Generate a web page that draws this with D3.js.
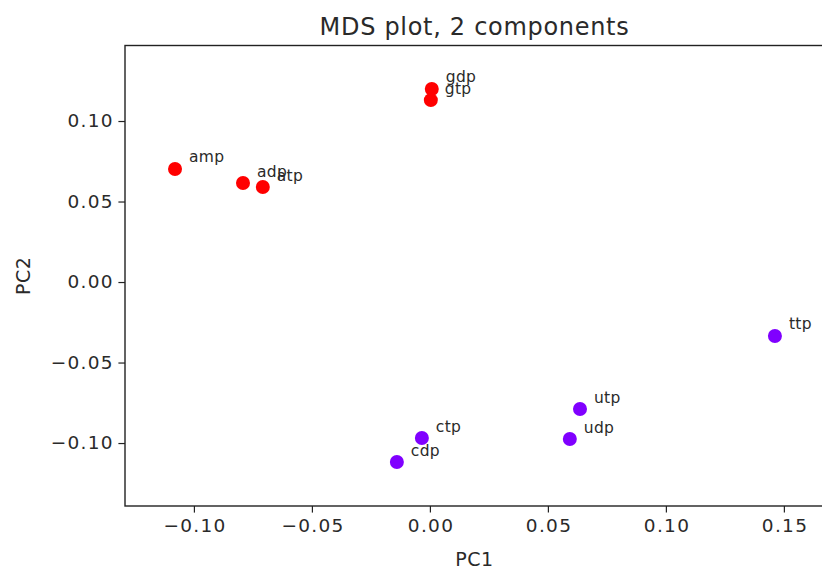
<!DOCTYPE html>
<html><head><meta charset="utf-8">
<script src="https://cdn.jsdelivr.net/npm/d3@7"></script>
<style>body{margin:0;background:#fff}svg{display:block}text{font-family:"DejaVu Sans",sans-serif}</style>
</head><body><svg id="c" width="822" height="569"></svg>
<script>
const labels = ["amp","adp","atp","gdp","gtp","ttp","utp","udp","ctp","cdp"];
const pc1 = [-0.108,-0.0792,-0.0708,0.0008,0.0004,0.1462,0.0636,0.0593,-0.0034,-0.014];
const pc2 = [0.0702,0.0615,0.059,0.1199,0.113,-0.0335,-0.0789,-0.0975,-0.0969,-0.1118];
const groups = [1,1,1,1,1,0,0,0,0,0];
const xTicks = [-0.10,-0.05,0.00,0.05,0.10,0.15];
const yTicks = [-0.10,-0.05,0.00,0.05,0.10];
const colors = ["#8000ff","#ff0000"];

const svg = d3.select("#c");
const L=125, T=45.5, R=824, B=506;
const x = d3.scaleLinear().domain([-0.1292, 0.1670]).range([L, R]);
const y = d3.scaleLinear().domain([-0.1391, 0.1469]).range([B, T]);

const fmt = d => (d<0?"\u2212":"") + Math.abs(d).toFixed(2);

const xa = svg.append("g").attr("transform",`translate(0,${B})`)
  .call(d3.axisBottom(x).tickValues(xTicks).tickFormat(fmt).tickSize(6.6).tickPadding(6.6));
const ya = svg.append("g").attr("transform",`translate(${L},0)`)
  .call(d3.axisLeft(y).tickValues(yTicks).tickFormat(fmt).tickSize(6.6).tickPadding(4.5));
[xa,ya].forEach(a=>{a.select(".domain").remove();
  a.selectAll("text").attr("font-size",18.5).attr("letter-spacing",1.3).attr("fill","#2a2a2a").style("font-family","DejaVu Sans");
  a.selectAll("line").attr("stroke","#222").attr("stroke-width",1.2);});
xa.selectAll("text").attr("dx","0.65");

svg.append("rect").attr("x",L).attr("y",T).attr("width",R-L).attr("height",B-T)
  .attr("fill","none").attr("stroke","#222").attr("stroke-width",1.4);

const idx = d3.range(labels.length);
svg.append("g").selectAll("circle").data(idx).join("circle")
  .attr("cx",i=>x(pc1[i])).attr("cy",i=>y(pc2[i])).attr("r",7)
  .attr("fill",i=>colors[groups[i]]);
svg.append("g").selectAll("text").data(idx).join("text")
  .attr("x",i=>x(pc1[i])+14).attr("y",i=>y(pc2[i])-6.5)
  .attr("font-size",15.5).attr("letter-spacing",0.3).attr("fill","#2a2a2a").text(i=>labels[i]);

svg.append("text").attr("x",(L+R)/2).attr("y",35).attr("text-anchor","middle")
  .attr("font-size",24).attr("letter-spacing",0.7).attr("fill","#2a2a2a").text("MDS plot, 2 components");
svg.append("text").attr("x",(L+R)/2).attr("y",566).attr("text-anchor","middle")
  .attr("font-size",19).attr("letter-spacing",0.5).attr("fill","#2a2a2a").text("PC1");
svg.append("text").attr("transform",`translate(30,${(T+B)/2}) rotate(-90)`).attr("text-anchor","middle")
  .attr("font-size",19).attr("letter-spacing",0.5).attr("fill","#2a2a2a").text("PC2");
</script></body></html>
